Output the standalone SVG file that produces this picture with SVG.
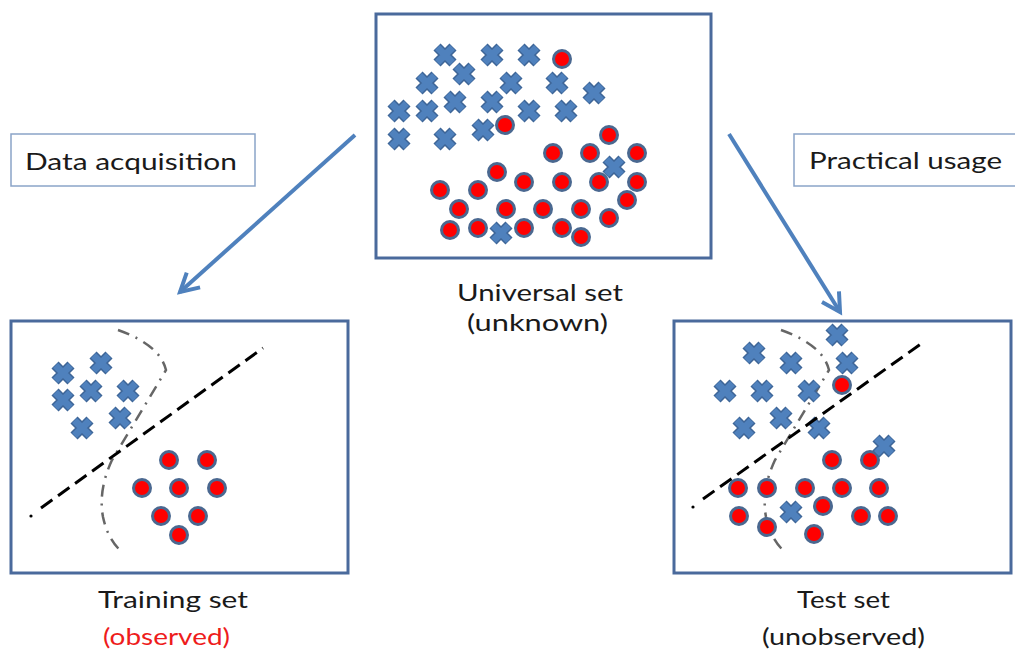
<svg xmlns="http://www.w3.org/2000/svg" xmlns:xlink="http://www.w3.org/1999/xlink" width="1015" height="655" viewBox="0 0 1015 655">
<style>
.frame{fill:#fff;stroke:#4a6a9c;stroke-width:3}
.lbox{fill:#fff;stroke:#8aa4c8;stroke-width:1.5}
.t{font-family:Lato,"Open Sans","Liberation Sans",sans-serif;font-size:24px;fill:#1a1a1a;text-anchor:start}
.red{fill:#ee1c1c}
.c{fill:#ff0000;stroke:#4a6890;stroke-width:3}
.sep{fill:none;stroke:#000;stroke-width:3;stroke-dasharray:14 7}
.curve{fill:none;stroke:#666;stroke-width:2.5;stroke-dasharray:12 7 2 7}
.arr{fill:none;stroke:#4f81bd;stroke-width:4}
</style>
<defs>
<g id="xs"><path d="M-8,-8L8,8M8,-8L-8,8" stroke="#3d6597" stroke-width="10"/><path d="M-7.5,-7.5L7.5,7.5M7.5,-7.5L-7.5,7.5" stroke="#4f81bd" stroke-width="7"/></g>
<circle id="co" class="c" r="8.5"/>
<marker id="ah" markerUnits="userSpaceOnUse" markerWidth="30" markerHeight="30" refX="20" refY="12" orient="auto" overflow="visible"><path d="M2,2L20,12L2,22" fill="none" stroke="#4f81bd" stroke-width="4"/></marker>
</defs>
<rect width="1015" height="655" fill="#fff"/>

<g id="connectors">
<line class="arr" x1="355" y1="135" x2="180" y2="292" marker-end="url(#ah)"/>
<line class="arr" x1="729" y1="134" x2="840" y2="312" marker-end="url(#ah)"/>
</g>

<g id="label-data-acquisition">
<rect class="lbox" x="11" y="134" width="244" height="52"/>
<text class="t" x="25" y="170" textLength="212" lengthAdjust="spacingAndGlyphs">Data acquisition</text>
</g>
<g id="label-practical-usage">
<rect class="lbox" x="794" y="134" width="230" height="52"/>
<text class="t" x="809" y="169" textLength="193" lengthAdjust="spacingAndGlyphs">Practical usage</text>
</g>

<g id="universal-set">
<rect class="frame" x="376" y="14" width="335" height="244"/>
<use xlink:href="#xs" x="445" y="55"/><use xlink:href="#xs" x="492" y="55"/><use xlink:href="#xs" x="529" y="55"/>
<use xlink:href="#xs" x="464" y="74"/><use xlink:href="#xs" x="427" y="83"/><use xlink:href="#xs" x="511" y="83"/>
<use xlink:href="#xs" x="557" y="83"/><use xlink:href="#xs" x="594" y="93"/><use xlink:href="#xs" x="399" y="111"/>
<use xlink:href="#xs" x="427" y="111"/><use xlink:href="#xs" x="455" y="102"/><use xlink:href="#xs" x="492" y="102"/>
<use xlink:href="#xs" x="529" y="111"/><use xlink:href="#xs" x="566" y="111"/><use xlink:href="#xs" x="399" y="139"/>
<use xlink:href="#xs" x="445" y="139"/><use xlink:href="#xs" x="483" y="130"/>
<use xlink:href="#co" x="562" y="59"/><use xlink:href="#co" x="505" y="125"/><use xlink:href="#co" x="609" y="135"/>
<use xlink:href="#co" x="553" y="153"/><use xlink:href="#co" x="590" y="153"/><use xlink:href="#co" x="637" y="153"/>
<use xlink:href="#co" x="497" y="172"/><use xlink:href="#co" x="440" y="190"/><use xlink:href="#co" x="478" y="190"/>
<use xlink:href="#co" x="524" y="182"/><use xlink:href="#co" x="562" y="182"/><use xlink:href="#co" x="599" y="182"/>
<use xlink:href="#co" x="637" y="182"/><use xlink:href="#co" x="627" y="200"/><use xlink:href="#co" x="459" y="209"/>
<use xlink:href="#co" x="506" y="209"/><use xlink:href="#co" x="543" y="209"/><use xlink:href="#co" x="581" y="209"/>
<use xlink:href="#co" x="609" y="218"/><use xlink:href="#co" x="450" y="230"/><use xlink:href="#co" x="478" y="228"/>
<use xlink:href="#co" x="524" y="228"/><use xlink:href="#co" x="562" y="228"/><use xlink:href="#co" x="581" y="237"/>
<use xlink:href="#xs" x="614" y="167"/><use xlink:href="#xs" x="501" y="233"/>
<text class="t" x="457" y="301" textLength="166" lengthAdjust="spacingAndGlyphs">Universal set</text>
<text class="t" x="467" y="331" textLength="141" lengthAdjust="spacingAndGlyphs">(unknown)</text>
</g>

<g id="training-set">
<rect class="frame" x="11" y="321" width="337" height="252"/>
<path class="curve" d="M118,330Q160,345 166,370L112,460Q98,490 103,517Q108,540 122,552"/>
<use xlink:href="#xs" x="63" y="373"/><use xlink:href="#xs" x="101" y="363"/><use xlink:href="#xs" x="91" y="391"/>
<use xlink:href="#xs" x="128" y="391"/><use xlink:href="#xs" x="63" y="400"/><use xlink:href="#xs" x="120" y="418"/>
<use xlink:href="#xs" x="82" y="428"/>
<use xlink:href="#co" x="169" y="460"/><use xlink:href="#co" x="207" y="460"/><use xlink:href="#co" x="142" y="488"/>
<use xlink:href="#co" x="179" y="488"/><use xlink:href="#co" x="217" y="488"/><use xlink:href="#co" x="161" y="516"/>
<use xlink:href="#co" x="198" y="516"/><use xlink:href="#co" x="179" y="535"/>
<circle cx="31" cy="516" r="1.6" fill="#000"/>
<line class="sep" x1="41" y1="508" x2="263" y2="348"/>
<text class="t" x="98" y="608" textLength="150" lengthAdjust="spacingAndGlyphs">Training set</text>
<text class="t red" x="103" y="645" textLength="127" lengthAdjust="spacingAndGlyphs">(observed)</text>
</g>

<g id="test-set">
<rect class="frame" x="674" y="321" width="337" height="252"/>
<path class="curve" transform="translate(663,0)" d="M118,330Q160,345 166,370L112,460Q98,490 103,517Q108,540 122,552"/>
<use xlink:href="#xs" x="837" y="335"/><use xlink:href="#xs" x="754" y="353"/><use xlink:href="#xs" x="791" y="363"/>
<use xlink:href="#xs" x="847" y="363"/><use xlink:href="#xs" x="725" y="391"/><use xlink:href="#xs" x="762" y="391"/>
<use xlink:href="#xs" x="809" y="391"/><use xlink:href="#xs" x="781" y="418"/><use xlink:href="#xs" x="744" y="428"/>
<use xlink:href="#xs" x="819" y="428"/>
<use xlink:href="#co" x="842" y="385"/><use xlink:href="#co" x="832" y="460"/><use xlink:href="#co" x="870" y="460"/>
<use xlink:href="#xs" x="884" y="446"/>
<use xlink:href="#co" x="738" y="488"/><use xlink:href="#co" x="767" y="488"/><use xlink:href="#co" x="805" y="488"/>
<use xlink:href="#co" x="842" y="488"/><use xlink:href="#co" x="879" y="488"/><use xlink:href="#co" x="823" y="506"/>
<use xlink:href="#co" x="739" y="516"/><use xlink:href="#co" x="767" y="527"/><use xlink:href="#co" x="861" y="516"/>
<use xlink:href="#co" x="888" y="516"/><use xlink:href="#co" x="814" y="534"/>
<use xlink:href="#xs" x="791" y="512"/>
<circle cx="693" cy="507" r="1.6" fill="#000"/>
<line class="sep" x1="703" y1="499" x2="925" y2="341"/>
<text class="t" x="797" y="608" textLength="93" lengthAdjust="spacingAndGlyphs">Test set</text>
<text class="t" x="762" y="645" textLength="163" lengthAdjust="spacingAndGlyphs">(unobserved)</text>
</g>
</svg>
